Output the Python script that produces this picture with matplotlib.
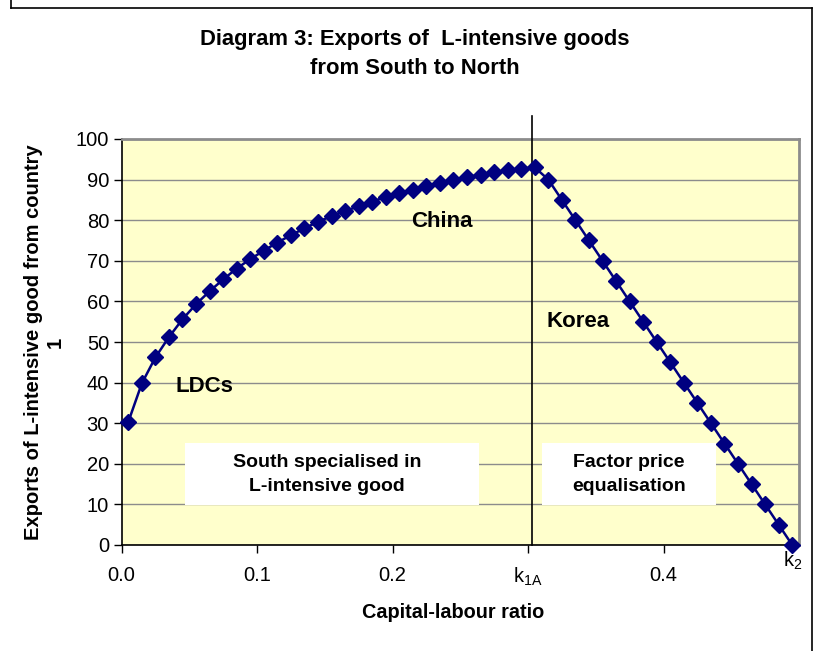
import matplotlib
matplotlib.use("Agg")
import matplotlib.pyplot as plt
from matplotlib.lines import Line2D
from matplotlib.patches import Rectangle

plt.rcParams['font.family'] = ['Liberation Sans', 'DejaVu Sans']

# Data
capital_labour = [0.005, 0.015, 0.025, 0.035, 0.045, 0.055, 0.065, 0.075, 0.085, 0.095,
                  0.105, 0.115, 0.125, 0.135, 0.145, 0.155, 0.165, 0.175, 0.185, 0.195,
                  0.205, 0.215, 0.225, 0.235, 0.245, 0.255, 0.265, 0.275, 0.285, 0.295,
                  0.305, 0.315, 0.325, 0.335, 0.345, 0.355, 0.365, 0.375, 0.385, 0.395,
                  0.405, 0.415, 0.425, 0.435, 0.445, 0.455, 0.465, 0.475, 0.485, 0.495]
exports = [30.3, 39.8, 46.2, 51.2, 55.6, 59.3, 62.5, 65.4, 68.1, 70.4,
           72.5, 74.5, 76.3, 78.0, 79.6, 81.0, 82.3, 83.4, 84.6, 85.7,
           86.7, 87.5, 88.4, 89.2, 90.0, 90.6, 91.2, 91.8, 92.3, 92.7,
           93.0, 90, 85, 80, 75, 70, 65, 60, 55, 50,
           45, 40, 35, 30, 25, 20, 15, 10, 5, 0]
x_ticks = [0.0, 0.1, 0.2, 0.3, 0.4]
x_tick_labels = ['0.0', '0.1', '0.2', r'k$_{\mathregular{1A}}$', '0.4']
y_ticks = [0, 10, 20, 30, 40, 50, 60, 70, 80, 90, 100]
k1a_line = 0.303

W, H = 817, 651
fig = plt.figure(figsize=(W / 100, H / 100), dpi=100)
fig.patch.set_facecolor('white')

# figure frame
for xs, ys in [([11, 11], [0, 8]), ([11, 812], [8, 8]), ([812, 812], [8, 651])]:
    fig.add_artist(Line2D([x / W for x in xs], [1 - y / H for y in ys],
                          color='black', lw=1.2, transform=fig.transFigure))

left, right, top, bottom = 121.5, 799, 139, 545
ax = fig.add_axes([left / W, 1 - bottom / H, (right - left) / W, (bottom - top) / H])
ax.set_facecolor('#FFFFCC')
ax.set_xlim(0, 0.5)
ax.set_ylim(0, 100)

ax.set_yticks(y_ticks)
ax.yaxis.grid(True, color='#8c8c8c', lw=1.0)
ax.set_axisbelow(True)
ax.set_xticks(x_ticks)
ax.set_xticklabels(x_tick_labels)
ax.tick_params(axis='both', direction='out', length=6, width=1, labelsize=14.5, color='black')
ax.tick_params(axis='y', pad=3)
ax.tick_params(axis='x', pad=9)

for s in ['left', 'bottom']:
    ax.spines[s].set_color('black')
    ax.spines[s].set_linewidth(1.2)
for s in ['top', 'right']:
    ax.spines[s].set_color('#8c8c8c')
    ax.spines[s].set_linewidth(2)

ax.plot(capital_labour, exports, color='#000080', lw=1.8, marker='D', markersize=8.5,
        markerfacecolor='#000080', markeredgecolor='#000080', clip_on=False, zorder=5)

# vertical line at k1A, extending above the plot
ax.plot([k1a_line, k1a_line], [0, 105.7], color='black', lw=1.2, clip_on=False, zorder=4)

# k2 label
ax.text(0.4955, -1.2, r'k$_{\mathregular{2}}$', fontsize=14.5, ha='center', va='top')

# annotations
ax.text(0.0395, 39, 'LDCs', fontsize=16, fontweight='bold', ha='left', va='center')
ax.text(0.2135, 79.7, 'China', fontsize=16, fontweight='bold', ha='left', va='center')
ax.text(0.3135, 55.0, 'Korea', fontsize=16, fontweight='bold', ha='left', va='center')

# white boxes
ax.add_patch(Rectangle((0.047, 9.9), 0.2165, 15.3, facecolor='white', edgecolor='none', zorder=2))
ax.add_patch(Rectangle((0.310, 9.9), 0.129, 15.3, facecolor='white', edgecolor='none', zorder=2))
ax.text(0.1515, 17.4, 'South specialised in\nL-intensive good', fontsize=14, fontweight='bold',
        ha='center', va='center', linespacing=1.5, zorder=3)
ax.text(0.3745, 17.4, 'Factor price\nequalisation', fontsize=14, fontweight='bold',
        ha='center', va='center', linespacing=1.5, zorder=3)

ax.set_xlabel('Capital-labour ratio', fontsize=14.3, fontweight='bold', labelpad=11)
ax.xaxis.set_label_coords((453.5 - left) / (right - left), -0.14)
ax.xaxis.label.set_va('center')
ax.xaxis.set_label_coords((453.5 - left) / (right - left), -(612 - bottom) / (bottom - top))
ax.set_ylabel('Exports of L-intensive good from country\n1', fontsize=14.5, fontweight='bold',
              labelpad=8, linespacing=1.15)

fig.text(415 / W, 1 - 54.5 / H, 'Diagram 3: Exports of  L-intensive goods\nfrom South to North',
         fontsize=15.8, fontweight='bold', ha='center', va='center', linespacing=1.5)

fig.savefig('out.png', dpi=100)
